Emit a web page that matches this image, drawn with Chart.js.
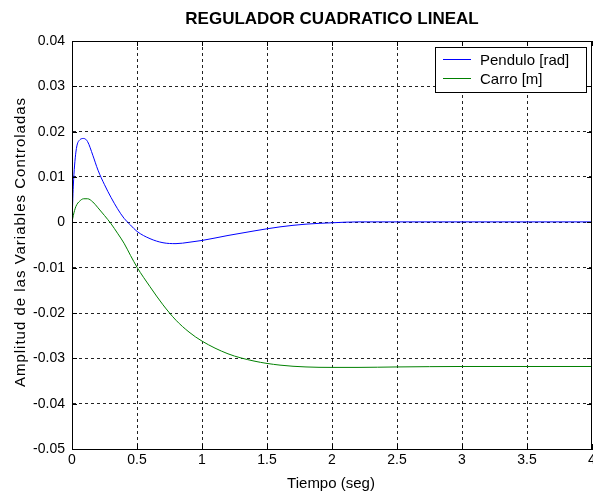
<!DOCTYPE html>
<html>
<head>
<meta charset="utf-8">
<script src="https://cdn.jsdelivr.net/npm/chart.js@4"></script>
<style>
  html, body { margin: 0; padding: 0; background: #fff; }
  #wrap { width: 593px; height: 494px; }
</style>
</head>
<body>
<div id="wrap"><canvas id="chart" width="593" height="494"></canvas></div>
<script>
// tiempo (seg)
let tiempo = [0, 0.01, 0.03, 0.06, 0.09, 0.12, 0.16, 0.2, 0.25, 0.3, 0.35, 0.4, 0.45, 0.5,
  0.6, 0.7, 0.8, 0.9, 1.0, 1.2, 1.4, 1.6, 1.8, 2.0, 2.2, 2.5, 3.0, 3.5, 4.0];
let pendulo = [0, 0.008, 0.0155, 0.0182, 0.0185, 0.0178, 0.0148, 0.0115, 0.0083, 0.0055, 0.003, 0.0009, -0.0006, -0.002,
  -0.0036, -0.0045, -0.0047, -0.0044, -0.004, -0.0029, -0.0019, -0.001, -0.0004, -0.0001, 0.0001, 0.0001, 0.0001, 0.0001, 0.0001];
let carro = [0, 0.0015, 0.0035, 0.0047, 0.0052, 0.0052, 0.0045, 0.0032, 0.0015, -0.0003, -0.0024, -0.0046, -0.0073, -0.0099,
  -0.0142, -0.0182, -0.0216, -0.0242, -0.0262, -0.029, -0.0306, -0.0315, -0.0319, -0.032, -0.032, -0.0319, -0.0318, -0.0318, -0.0318];

let xTicks = [0, 0.5, 1, 1.5, 2, 2.5, 3, 3.5, 4];
let yTicks = [-0.05, -0.04, -0.03, -0.02, -0.01, 0, 0.01, 0.02, 0.03, 0.04];

const FONT = "'Liberation Sans', Arial, sans-serif";

function toPoints(xs, ys) {
  return xs.map((x, i) => ({ x: x, y: ys[i] }));
}

function createDataset(label, color, data) {
  return {
    label: label,
    borderColor: color,
    backgroundColor: color,
    borderWidth: 1,
    pointRadius: 0,
    cubicInterpolationMode: 'monotone',
    fill: false,
    data: data
  };
}

// box, inner tick marks, axis titles and legend (matlab style)
const matlabFrame = {
  id: 'matlabFrame',
  afterDatasetsDraw(chart) {
    const ctx = chart.ctx;
    const a = chart.chartArea;
    const xs = chart.scales.x, ys = chart.scales.y;
    ctx.save();
    ctx.strokeStyle = '#000';
    ctx.lineWidth = 1;
    ctx.beginPath();
    xTicks.forEach(v => {
      const px = Math.round(xs.getPixelForValue(v)) + 0.5;
      ctx.moveTo(px, a.top); ctx.lineTo(px, a.top + 5);
      ctx.moveTo(px, a.bottom); ctx.lineTo(px, a.bottom - 5);
    });
    yTicks.forEach(v => {
      const py = Math.round(ys.getPixelForValue(v)) + 0.5;
      ctx.moveTo(a.left, py); ctx.lineTo(a.left + 5, py);
      ctx.moveTo(a.right, py); ctx.lineTo(a.right - 5, py);
    });
    ctx.stroke();
    ctx.strokeRect(Math.round(a.left) + 0.5, Math.round(a.top) + 0.5,
      Math.round(a.right - a.left) - 1, Math.round(a.bottom - a.top));

    // legend
    const lx = 435, ly = 47, lw = 151, lh = 45;
    ctx.fillStyle = '#fff';
    ctx.fillRect(lx, ly, lw, lh);
    ctx.strokeRect(lx + 0.5, ly + 0.5, lw, lh);
    ctx.font = '15px ' + FONT;
    ctx.textBaseline = 'middle';
    ctx.textAlign = 'left';
    chart.data.datasets.forEach((ds, i) => {
      const yy = ly + 12.5 + i * 19;
      ctx.strokeStyle = ds.borderColor;
      ctx.beginPath();
      ctx.moveTo(lx + 8, yy); ctx.lineTo(lx + 36, yy);
      ctx.stroke();
      ctx.fillStyle = '#000';
      ctx.fillText(ds.label, lx + 45, yy + 1);
    });

    // axis titles
    ctx.fillStyle = '#000';
    ctx.textAlign = 'center';
    ctx.font = '15px ' + FONT;
    ctx.fillText('Tiempo (seg)', 331, 484);
    ctx.translate(21, 242);
    ctx.rotate(-Math.PI / 2);
    ctx.letterSpacing = '1px';
    ctx.fillText('Amplitud de las Variables Controladas', 0, 0);
    ctx.restore();
  }
};

function createConfig(datasets) {
  const grid = {
    color: '#222',
    lineWidth: 1,
    drawTicks: false
  };
  return {
    type: 'line',
    data: { datasets: datasets },
    plugins: [matlabFrame],
    options: {
      responsive: false,
      animation: { duration: 0 },
      layout: { padding: { left: 0, right: 1, top: 0, bottom: 0 } },
      scales: {
        x: {
          type: 'linear',
          min: 0,
          max: 4,
          afterBuildTicks: (scale) => { scale.ticks = xTicks.map(v => ({ value: v })); },
          afterFit: (scale) => { scale.height = 45; scale.paddingLeft = 0; scale.paddingRight = 0; },
          ticks: {
            padding: 3,
            maxRotation: 0,
            color: '#000',
            font: { family: FONT, size: 14 },
            callback: (value) => `${value}`
          },
          grid: Object.assign({}, grid, {
            color: (c) => (c.tick.value === 0 || c.tick.value === 4) ? 'rgba(0,0,0,0)' : '#222'
          }),
          border: { display: true, color: '#000', dash: [3, 3] }
        },
        y: {
          min: -0.05,
          max: 0.04,
          afterBuildTicks: (scale) => { scale.ticks = yTicks.map(v => ({ value: v })); },
          afterFit: (scale) => { scale.width = 72; scale.paddingTop = 0; scale.paddingBottom = 0; },
          ticks: {
            padding: 7,
            color: '#000',
            font: { family: FONT, size: 14 },
            callback: (value) => `${Number(value.toFixed(2))}`
          },
          grid: Object.assign({}, grid, {
            color: (c) => (c.tick.value === -0.05 || c.tick.value === 0.04) ? 'rgba(0,0,0,0)' : '#222'
          }),
          border: { display: true, color: '#000', dash: [3, 3] }
        }
      },
      plugins: {
        legend: { display: false },
        tooltip: { enabled: false },
        title: {
          display: true,
          fullSize: false,
          text: 'REGULADOR CUADRATICO LINEAL',
          color: '#000',
          font: { family: FONT, size: 17, weight: 'bold' },
          padding: { top: 9, bottom: 11.6 }
        }
      }
    }
  };
}

let datasets = [];
datasets.push(createDataset('Pendulo [rad]', '#0000FF', toPoints(tiempo, pendulo)));
datasets.push(createDataset('Carro [m]', '#008000', toPoints(tiempo, carro)));

let ctx = document.getElementById('chart').getContext('2d');
let chart = new Chart(ctx, createConfig(datasets));
</script>
</body>
</html>
